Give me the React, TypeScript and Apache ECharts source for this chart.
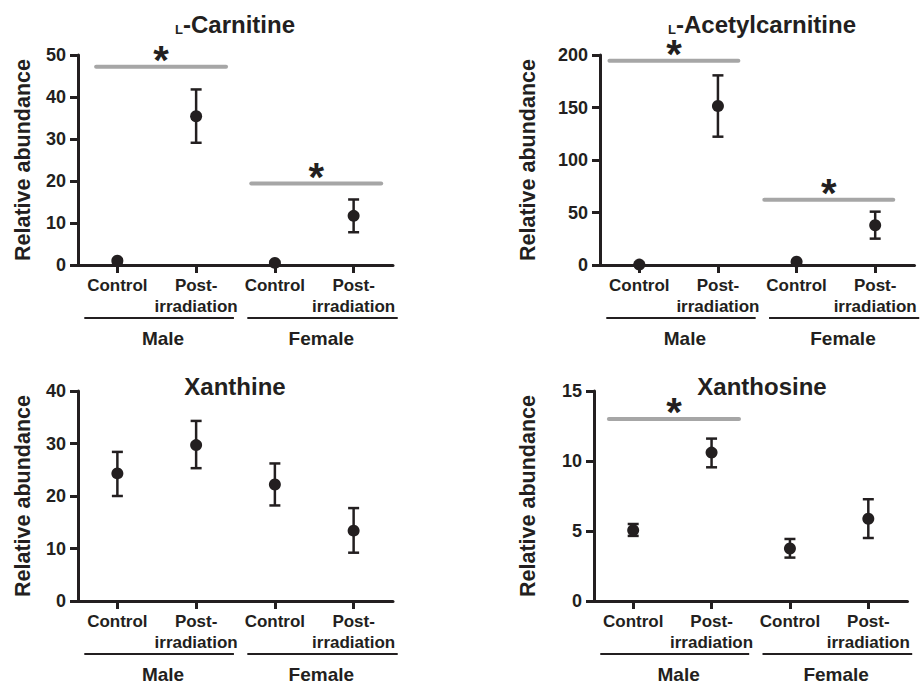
import React, { useEffect, useRef } from 'react';
import * as echarts from 'echarts';

// ---- data ----
const categories = ['Control', 'Post-\nirradiation', 'Control', 'Post-\nirradiation'];
const groupLabels = ['Male', 'Female'];
const xPositions = [1, 2, 3, 4];

const carnitineMean = [1.0, 35.4, 0.5, 11.7];
const carnitineLow = [0.6, 29.1, 0.2, 7.8];
const carnitineHigh = [1.4, 41.8, 0.8, 15.6];

const acetylMean = [0.4, 151.4, 3.2, 37.8];
const acetylLow = [0.0, 122.2, 2.2, 25.1];
const acetylHigh = [0.8, 180.6, 4.2, 50.8];

const xanthineMean = [24.3, 29.7, 22.2, 13.4];
const xanthineLow = [20.0, 25.3, 18.2, 9.2];
const xanthineHigh = [28.4, 34.3, 26.2, 17.7];

const xanthosineMean = [5.06, 10.6, 3.75, 5.87];
const xanthosineLow = [4.65, 9.55, 3.1, 4.5];
const xanthosineHigh = [5.5, 11.6, 4.43, 7.27];

// significance bars: [xStart, xEnd, y]
const carnitineSig = [[0.73, 2.38, 47.2], [2.7, 4.35, 19.4]];
const acetylSig = [[0.62, 2.26, 194.6], [2.59, 4.23, 62.2]];
const xanthineSig: number[][] = [];
const xanthosineSig = [[0.69, 2.35, 13.0]];

// group underline spans: [xStart, xEnd, labelX]
const groupSpans = [[0.58, 2.48, 1.58], [2.65, 4.56, 3.59]];

const yMaxes = [50, 200, 40, 15];
const yIntervals = [10, 50, 10, 5];

// ---- style ----
const INK = '#231f20';
const GRAY = '#a6a6a6';
const FONT = '"Liberation Sans", Arial, Helvetica, sans-serif';

const panels = [
  { prefix: 'L', title: '-Carnitine', mean: carnitineMean, low: carnitineLow, high: carnitineHigh, sig: carnitineSig,
    grid: { left: 78, top: 55, width: 315, height: 210 }, nameGap: 44, titleXY: [235, 23] },
  { prefix: 'L', title: '-Acetylcarnitine', mean: acetylMean, low: acetylLow, high: acetylHigh, sig: acetylSig,
    grid: { left: 600, top: 55, width: 314.5, height: 210 }, nameGap: 61, titleXY: [762, 23] },
  { prefix: '', title: 'Xanthine', mean: xanthineMean, low: xanthineLow, high: xanthineHigh, sig: xanthineSig,
    grid: { left: 78, top: 391, width: 315, height: 210 }, nameGap: 44, titleXY: [235, 385] },
  { prefix: '', title: 'Xanthosine', mean: xanthosineMean, low: xanthosineLow, high: xanthosineHigh, sig: xanthosineSig,
    grid: { left: 594, top: 391, width: 313.5, height: 210 }, nameGap: 55, titleXY: [762, 385] },
];

function buildOption() {
  const grid: any[] = [];
  const xAxis: any[] = [];
  const yAxis: any[] = [];
  const series: any[] = [];
  const graphic: any[] = [];

  panels.forEach((p, i) => {
    grid.push({ ...p.grid, containLabel: false });
    xAxis.push({
      type: 'category', gridIndex: i, data: categories, boundaryGap: true,
      axisLine: { show: true, lineStyle: { color: INK, width: 3 } },
      axisTick: { show: true, alignWithLabel: true, length: 8, lineStyle: { color: INK, width: 3 } },
      axisLabel: { interval: 0, color: INK, fontSize: 17, fontWeight: 'bold', fontFamily: FONT, margin: 10, lineHeight: 21 },
      splitLine: { show: false },
    });
    xAxis.push({ type: 'value', gridIndex: i, min: 0.5, max: 4.5, show: false, splitLine: { show: false } });
    yAxis.push({
      type: 'value', gridIndex: i, min: 0, max: yMaxes[i], interval: yIntervals[i],
      name: 'Relative abundance', nameLocation: 'middle', nameGap: p.nameGap,
      nameTextStyle: { color: INK, fontSize: 21.5, fontWeight: 'bold', fontFamily: FONT },
      axisLine: { show: true, lineStyle: { color: INK, width: 3 } },
      axisTick: { show: true, length: 8, lineStyle: { color: INK, width: 3 } },
      axisLabel: { color: INK, fontSize: 18, fontWeight: 'bold', fontFamily: FONT, margin: 12 },
      splitLine: { show: false },
    });
    const xi = i * 2 + 1;
    series.push({
      type: 'custom', xAxisIndex: xi, yAxisIndex: i, silent: true,
      data: xPositions.map((x, k) => [x, p.low[k], p.high[k]]),
      renderItem: (params: any, api: any) => {
        const x = api.value(0);
        const lo = api.coord([x, api.value(1)]);
        const hi = api.coord([x, api.value(2)]);
        const cap = 5.5;
        const style = { stroke: INK, lineWidth: 2.5, fill: null };
        return {
          type: 'group', children: [
            { type: 'line', shape: { x1: lo[0], y1: lo[1], x2: hi[0], y2: hi[1] }, style },
            { type: 'line', shape: { x1: lo[0] - cap, y1: lo[1], x2: lo[0] + cap, y2: lo[1] }, style },
            { type: 'line', shape: { x1: hi[0] - cap, y1: hi[1], x2: hi[0] + cap, y2: hi[1] }, style },
          ],
        };
      },
    });
    series.push({
      type: 'scatter', xAxisIndex: xi, yAxisIndex: i, symbol: 'circle', symbolSize: 12,
      itemStyle: { color: INK, opacity: 1 }, data: xPositions.map((x, k) => [x, p.mean[k]]),
    });
    if (p.sig.length) {
      series.push({
        type: 'custom', xAxisIndex: xi, yAxisIndex: i, silent: true, clip: false,
        data: p.sig,
        renderItem: (params: any, api: any) => {
          const a = api.coord([api.value(0), api.value(2)]);
          const b = api.coord([api.value(1), api.value(2)]);
          return {
            type: 'group', children: [
              { type: 'line', shape: { x1: a[0], y1: a[1], x2: b[0], y2: b[1] }, style: { stroke: GRAY, lineWidth: 4, lineCap: 'round' } },
              { type: 'text', x: (a[0] + b[0]) / 2, y: a[1] - 7,
                style: { text: '*', fontSize: 40, fontWeight: 'bold', fontFamily: FONT, fill: INK, align: 'center', verticalAlign: 'middle' } },
            ],
          };
        },
      });
    }
    series.push({
      type: 'custom', xAxisIndex: xi, yAxisIndex: i, silent: true, clip: false,
      data: groupSpans,
      renderItem: (params: any, api: any) => {
        const a = api.coord([api.value(0), 0]);
        const b = api.coord([api.value(1), 0]);
        const c = api.coord([api.value(2), 0]);
        return {
          type: 'group', children: [
            { type: 'line', shape: { x1: a[0], y1: a[1] + 53, x2: b[0], y2: a[1] + 53 }, style: { stroke: INK, lineWidth: 2 } },
            { type: 'text', x: c[0], y: a[1] + 73,
              style: { text: groupLabels[params.dataIndex], fontSize: 19, fontWeight: 'bold', fontFamily: FONT, fill: INK, align: 'center', verticalAlign: 'middle' } },
          ],
        };
      },
    });
    graphic.push({
      type: 'text', x: p.titleXY[0], y: p.titleXY[1],
      style: {
        text: p.prefix ? `{s|${p.prefix}}{b|${p.title}}` : `{b|${p.title}}`,
        align: 'center', verticalAlign: 'middle', fill: INK,
        rich: {
          s: { fontSize: 13, fontWeight: 'bold', fontFamily: FONT, fill: INK, verticalAlign: 'bottom', lineHeight: 26 },
          b: { fontSize: 24, fontWeight: 'bold', fontFamily: FONT, fill: INK, verticalAlign: 'bottom', lineHeight: 26 },
        },
      },
    });
  });

  return { animation: false, backgroundColor: '#ffffff', grid, xAxis, yAxis, series, graphic };
}

export default function App() {
  const ref = useRef<HTMLDivElement>(null);
  useEffect(() => {
    document.body.style.margin = '0';
    if (!ref.current) return;
    const chart = echarts.init(ref.current, undefined, { renderer: 'svg' });
    chart.setOption(buildOption() as any);
    return () => chart.dispose();
  }, []);
  return <div ref={ref} style={{ width: 923, height: 688 }} />;
}
